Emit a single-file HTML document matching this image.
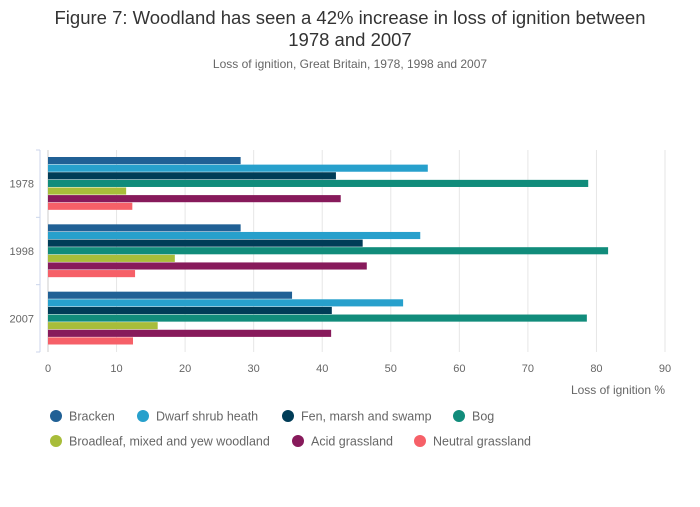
<!DOCTYPE html>
<html><head><meta charset="utf-8"><style>
body{margin:0;background:#fff;font-family:"Liberation Sans",sans-serif}
</style></head><body>
<svg width="700" height="502" xmlns="http://www.w3.org/2000/svg" font-family="Liberation Sans, sans-serif">
<text x="350" y="24" text-anchor="middle" font-size="18.5" fill="#333">Figure 7: Woodland has seen a 42% increase in loss of ignition between</text>
<text x="350" y="46" text-anchor="middle" font-size="18.5" fill="#333">1978 and 2007</text>
<text x="350" y="68" text-anchor="middle" font-size="12" fill="#666">Loss of ignition, Great Britain, 1978, 1998 and 2007</text>
<g id="grid"></g><g id="bars"></g><g id="axes"></g><g id="legend"></g>
</svg>
<script>
const categories=["1978","1998","2007"];
const seriesNames=["Bracken","Dwarf shrub heath","Fen, marsh and swamp","Bog","Broadleaf, mixed and yew woodland","Acid grassland","Neutral grassland"];
const bracken=[28.1,28.1,35.6];
const dwarf=[55.4,54.3,51.8];
const fen=[42.0,45.9,41.4];
const bog=[78.8,81.7,78.6];
const broadleaf=[11.4,18.5,16.0];
const acid=[42.7,46.5,41.3];
const neutral=[12.3,12.7,12.4];
const ticks=[0,10,20,30,40,50,60,70,80,90];
const colors=["#206095","#27a0cc","#003c57","#118c7b","#a8bd3a","#871a5b","#f66068"];
const series=[bracken,dwarf,fen,bog,broadleaf,acid,neutral];
const NS="http://www.w3.org/2000/svg";
const x0=48,x1=665,yTop=150,yBot=352;
const xs=v=>x0+(v/90)*(x1-x0);
const band=(yBot-yTop)/categories.length;
function mk(t,a,p){const e=document.createElementNS(NS,t);for(const k in a)e.setAttribute(k,a[k]);p.appendChild(e);return e;}
const g=document.getElementById('grid'),b=document.getElementById('bars'),ax=document.getElementById('axes'),lg=document.getElementById('legend');
ticks.forEach(t=>{
 const l=mk('line',{x1:xs(t),x2:xs(t),y1:yTop,y2:yBot,stroke:t===0?'#ccc':'#e6e6e6'},g);
 
 
 const tx=mk('text',{x:xs(t),y:372,'text-anchor':'middle','font-size':11,fill:'#666'},ax);tx.textContent=t;
 
 
});
const al=mk('line',{x1:40,x2:40,y1:yTop,y2:yBot,stroke:'#ccd6eb'},ax);


for(let i=0;i<=categories.length;i++){const tk=mk('line',{x1:36,x2:40,y1:yTop+i*band,y2:yTop+i*band,stroke:'#ccd6eb'},ax);
 
 }
const pad=7,bh=(band-2*pad)/series.length;
categories.forEach((c,i)=>{
 const t=mk('text',{x:34,y:yTop+i*band+band/2+4,'text-anchor':'end','font-size':11,fill:'#666'},ax);t.textContent=c;
 
 
 series.forEach((s,j)=>{
  const r=mk('rect',{x:x0,y:yTop+i*band+pad+j*bh,width:xs(s[i])-x0,height:bh-0.5,fill:colors[j]},b);
  
  
 });
});
const at=mk('text',{x:665,y:394,'text-anchor':'end','font-size':12,fill:'#666'},ax);at.textContent='Loss of ignition %';


const lpos=[[56,416],[143,416],[288,416],[459,416],[56,441],[298,441],[420,441]];
seriesNames.forEach((n,j)=>{
 const [x,y]=lpos[j];
 const gg=mk('g',{},lg);
 
 
 mk('circle',{cx:x,cy:y,r:6,fill:colors[j]},gg);
 const t=mk('text',{x:x+13,y:y+4.5,'font-size':12.5,fill:'#666'},gg);t.textContent=n;
});
</script>
</body></html>
